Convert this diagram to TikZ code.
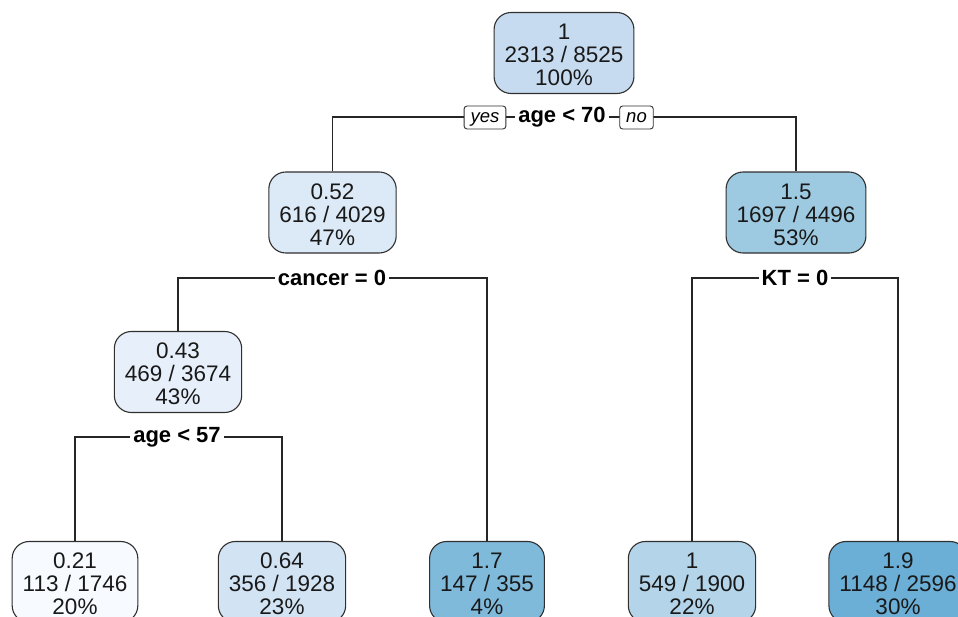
\documentclass[tikz,border=0pt]{standalone}
\usepackage{fontspec}
\setmainfont{Liberation Sans}
\usetikzlibrary{backgrounds}
\definecolor{cA}{HTML}{C6DBEF}
\definecolor{cB}{HTML}{DCE9F6}
\definecolor{cC}{HTML}{9ECAE1}
\definecolor{cD}{HTML}{E7F0FA}
\definecolor{cE}{HTML}{F7FBFF}
\definecolor{cF}{HTML}{D2E3F3}
\definecolor{cG}{HTML}{80BADB}
\definecolor{cH}{HTML}{B3D4E9}
\definecolor{cI}{HTML}{6BAED6}
\definecolor{edge}{HTML}{303030}
\newcommand\tpstrut{\rule{0pt}{20pt}}
\tikzset{
  tbox/.style={draw=edge, line width=1.1pt, rounded corners=17pt, align=center,
    inner xsep=10.5pt, minimum height=81pt, text=black!90,
    font=\fontsize{22.5}{23}\selectfont},
  lab/.style={fill=white, inner xsep=3pt, inner ysep=1pt,
    font=\bfseries\fontsize{22}{23}\selectfont},
  yn/.style={draw=edge, fill=white, line width=0.9pt, rounded corners=3pt,
    inner xsep=6.5pt, inner ysep=0pt, minimum height=23pt,
    text height=13.5pt, text depth=4pt,
    font=\itshape\fontsize{18.5}{20}\selectfont},
  conn/.style={draw=black!85, line width=1.1pt}
}
\begin{document}
\begin{tikzpicture}[x=1pt,y=-1pt]
\useasboundingbox (0,0) rectangle (958,616);
\clip (0,0) rectangle (958,616);
% nodes
\node[tbox, fill=cA] (r) at (564,53) {\tpstrut 1\\2313 / 8525\\100\%};
\node[tbox, fill=cB] (a) at (332.5,212.5) {\tpstrut 0.52\\616 / 4029\\47\%};
\node[tbox, fill=cC] (b) at (796,212.5) {\tpstrut 1.5\\1697 / 4496\\53\%};
\node[tbox, fill=cD] (c) at (178,372) {\tpstrut 0.43\\469 / 3674\\43\%};
\node[tbox, fill=cE] (l1) at (75,582) {\tpstrut 0.21\\113 / 1746\\20\%};
\node[tbox, fill=cF] (l2) at (282,582) {\tpstrut 0.64\\356 / 1928\\23\%};
\node[tbox, fill=cG] (l3) at (487,582) {\tpstrut 1.7\\147 / 355\\4\%};
\node[tbox, fill=cH] (l4) at (692,582) {\tpstrut 1\\549 / 1900\\22\%};
\node[tbox, fill=cI] (l5) at (898,582) {\tpstrut 1.9\\1148 / 2596\\30\%};
% split labels
\node[lab] (s1) at (562,117) {age < 70};
\node[yn] (yes) at (485,117.5) {yes};
\node[yn] (no) at (636.5,117.5) {no};
\node[lab] (s2) at (332,278) {cancer = 0};
\node[lab] (s3) at (795,278) {KT = 0};
\node[lab] (s4) at (177,437) {age < 57};
\begin{scope}[on background layer]
\fill[white] (0,0) rectangle (958,616);
\draw[conn] (a.north) |- (s1.center) -| (b.north);
\draw[conn] (c.north) |- (s2.center) -| (l3.north);
\draw[conn] (l4.north) |- (s3.center) -| (l5.north);
\draw[conn] (l1.north) |- (s4.center) -| (l2.north);
\end{scope}
\end{tikzpicture}
\end{document}
